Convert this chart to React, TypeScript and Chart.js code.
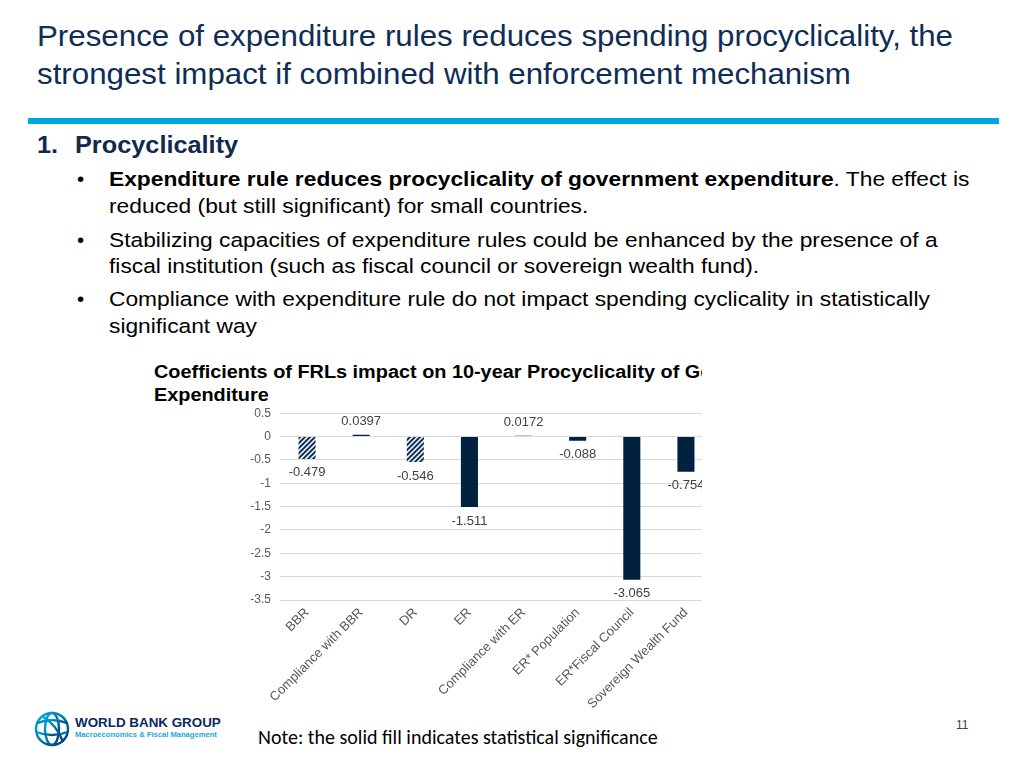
import React, { useEffect, useRef } from "react";
import { Chart, registerables } from "chart.js";

Chart.register(...registerables);

const categories = [
  "BBR",
  "Compliance with BBR",
  "DR",
  "ER",
  "Compliance with ER",
  "ER* Population",
  "ER*Fiscal Council",
  "Sovereign Wealth Fund",
];
const coefficients = [-0.479, 0.0397, -0.546, -1.511, 0.0172, -0.088, -3.065, -0.754];
const valueTexts = ["-0.479", "0.0397", "-0.546", "-1.511", "0.0172", "-0.088", "-3.065", "-0.754"];
const significant = [false, true, false, true, true, true, true, true];
const yTicks = [0.5, 0, -0.5, -1, -1.5, -2, -2.5, -3, -3.5];
const yTickLabels = ["0.5", "0", "-0.5", "-1", "-1.5", "-2", "-2.5", "-3", "-3.5"];

const NAVY = "#00213f";
const ARIAL = '"Liberation Sans", Arial, sans-serif';

function makeHatch(): CanvasPattern | string {
  const c = document.createElement("canvas");
  c.width = 5;
  c.height = 5;
  const g = c.getContext("2d");
  if (!g) return NAVY;
  g.fillStyle = "#dbe8f4";
  g.fillRect(0, 0, 5, 5);
  g.strokeStyle = NAVY;
  g.lineWidth = 1.6;
  g.beginPath();
  g.moveTo(-1, 6);
  g.lineTo(6, -1);
  g.moveTo(-1, 1);
  g.lineTo(1, -1);
  g.moveTo(4, 6);
  g.lineTo(6, 4);
  g.stroke();
  return g.createPattern(c, "repeat") || NAVY;
}

const valueLabelPlugin = {
  id: "valueLabels",
  afterDatasetsDraw(chart: any) {
    const ctx = chart.ctx;
    const meta = chart.getDatasetMeta(0);
    ctx.save();
    ctx.font = `13px ${ARIAL}`;
    ctx.fillStyle = "#404040";
    ctx.textAlign = "center";
    ctx.textBaseline = "middle";
    meta.data.forEach((bar: any, i: number) => {
      const v = coefficients[i];
      const y = v < 0 ? bar.y + 14 : bar.y - 13;
      ctx.fillText(valueTexts[i], bar.x, y);
    });
    ctx.restore();
  },
};

function BarChart() {
  const ref = useRef<HTMLCanvasElement | null>(null);
  useEffect(() => {
    if (!ref.current) return;
    const hatch = makeHatch();
    const chart = new Chart(ref.current, {
      type: "bar",
      data: {
        labels: categories,
        datasets: [
          {
            data: coefficients,
            backgroundColor: significant.map((s) => (s ? NAVY : hatch)),
            borderWidth: 0,
            barPercentage: 0.315,
            categoryPercentage: 1,
          },
        ],
      },
      options: {
        animation: false,
        responsive: false,
        maintainAspectRatio: false,
        layout: { padding: { top: 10, left: 0, right: 0, bottom: 0 } },
        plugins: { legend: { display: false }, tooltip: { enabled: false }, title: { display: false } },
        scales: {
          x: {
            grid: { display: false, drawTicks: false },
            border: { display: false },
            ticks: {
              minRotation: 45,
              maxRotation: 45,
              autoSkip: false,
              padding: 5,
              color: "#595959",
              font: { family: ARIAL, size: 13 },
            },
            afterFit: (s: any) => {
              s.height = 110;
            },
          },
          y: {
            min: -3.5,
            max: 0.5,
            afterBuildTicks: (s: any) => {
              s.ticks = yTicks.map((v) => ({ value: v }));
            },
            ticks: {
              padding: 9,
              color: "#595959",
              font: { family: ARIAL, size: 12 },
              callback: (v: any) => {
                const i = yTicks.indexOf(Number(v));
                return i >= 0 ? yTickLabels[i] : "";
              },
            },
            grid: { color: "#d9d9d9", drawTicks: false },
            border: { display: false },
            afterFit: (s: any) => {
              s.width = 130;
            },
          },
        },
      },
      plugins: [valueLabelPlugin],
    } as any);
    return () => chart.destroy();
  }, []);
  return <canvas ref={ref} width={563} height={313} style={{ position: "absolute", left: 0, top: 42, width: 563, height: 313 }} />;
}

function Logo() {
  return (
    <div style={{ position: "absolute", left: 33, top: 710, width: 200, height: 40 }}>
      <svg width="40" height="38" viewBox="0 0 40 38" style={{ position: "absolute", left: 0, top: 1 }}>
        <defs>
          <linearGradient id="wbg" x1="0" y1="0" x2="1" y2="1">
            <stop offset="0" stopColor="#00b0e6" />
            <stop offset="1" stopColor="#003a70" />
          </linearGradient>
        </defs>
        <g fill="none" stroke="url(#wbg)" strokeWidth="2.4">
          <circle cx="19" cy="18" r="16" />
          <ellipse cx="19" cy="18" rx="7" ry="16" />
          <path d="M4 12 Q19 6 34 12" />
          <path d="M3.5 21 Q19 27 34.5 21" />
          <path d="M9 5 Q24 14 30 31" />
        </g>
      </svg>
      <div
        style={{
          position: "absolute",
          left: 42,
          top: 6,
          fontFamily: ARIAL,
          fontWeight: 700,
          fontSize: 13.4,
          lineHeight: "14px",
          color: "#0a2a5c",
          whiteSpace: "nowrap",
        }}
      >
        WORLD BANK GROUP
      </div>
      <div
        style={{
          position: "absolute",
          left: 42,
          top: 21,
          fontFamily: ARIAL,
          fontWeight: 700,
          fontSize: 7.6,
          lineHeight: "8px",
          color: "#1aa7dd",
          whiteSpace: "nowrap",
        }}
      >
        Macroeconomics &amp; Fiscal Management
      </div>
    </div>
  );
}

function Line({ top, left, size, children, bold, color, sx }: any) {
  return (
    <div
      style={{
        position: "absolute",
        top,
        left,
        fontFamily: ARIAL,
        fontSize: size,
        lineHeight: `${size}px`,
        fontWeight: bold ? 700 : 400,
        color: color || "#000",
        whiteSpace: "nowrap",
        transform: sx ? `scaleX(${sx})` : undefined,
        transformOrigin: "0 0",
      }}
    >
      {children}
    </div>
  );
}

export default function App() {
  const TITLE = "#0f2d55";
  const B = 20.5;
  const BS = 1.11;
  return (
    <div style={{ position: "absolute", left: 0, top: 0, width: 1024, height: 768, background: "#fff", overflow: "hidden" }}>
      <Line top={21.3} left={37} size={30} color={TITLE} sx={1.043}>
        Presence of expenditure rules reduces spending procyclicality, the
      </Line>
      <Line top={58.6} left={37} size={30} color={TITLE} sx={1.043}>
        strongest impact if combined with enforcement mechanism
      </Line>
      <div style={{ position: "absolute", left: 28, top: 118, width: 971, height: 6, background: "#00a6de" }} />
      <Line top={133.5} left={37} size={23} bold color="#12294d" sx={1.1}>
        1.
      </Line>
      <Line top={133.5} left={75} size={23} bold color="#12294d" sx={1.1}>
        Procyclicality
      </Line>
      {[169.4, 229.6, 289.3].map((t) => (
        <Line key={t} top={t} left={77} size={B} color="#000">
          •
        </Line>
      ))}
      <Line top={169.4} left={109} size={B} color="#000" sx={BS}>
        <b>Expenditure rule reduces procyclicality of government expenditure</b>. The effect is
      </Line>
      <Line top={196} left={109} size={B} color="#000" sx={BS}>
        reduced (but still significant) for small countries.
      </Line>
      <Line top={229.6} left={109} size={B} color="#000" sx={BS}>
        Stabilizing capacities of expenditure rules could be enhanced by the presence of a
      </Line>
      <Line top={255.7} left={109} size={B} color="#000" sx={BS}>
        fiscal institution (such as fiscal council or sovereign wealth fund).
      </Line>
      <Line top={289.3} left={109} size={B} color="#000" sx={BS}>
        Compliance with expenditure rule do not impact spending cyclicality in statistically
      </Line>
      <Line top={315.7} left={109} size={B} color="#000" sx={BS}>
        significant way
      </Line>

      <div style={{ position: "absolute", left: 150, top: 355, width: 552, height: 365, overflow: "hidden" }}>
        <div
          style={{
            position: "absolute",
            left: 4,
            top: 4.5,
            fontFamily: ARIAL,
            fontWeight: 700,
            fontSize: 19.2,
            lineHeight: "23.7px",
            color: "#000",
            whiteSpace: "nowrap",
            transform: "scaleX(1.035)",
            transformOrigin: "0 0",
          }}
        >
          Coefficients of FRLs impact on 10-year Procyclicality of Government
          <br />
          Expenditure
        </div>
        <BarChart />
      </div>

      <Logo />
      <Line top={719} left={956} size={12} color="#404040">
        11
      </Line>
      <div
        style={{
          position: "absolute",
          left: 258,
          top: 727,
          fontFamily: 'Carlito, Lato, "Open Sans", sans-serif',
          fontSize: 20,
          lineHeight: "20px",
          color: "#000",
          whiteSpace: "nowrap",
        }}
      >
        Note: the solid fill indicates statistical significance
      </div>
    </div>
  );
}
